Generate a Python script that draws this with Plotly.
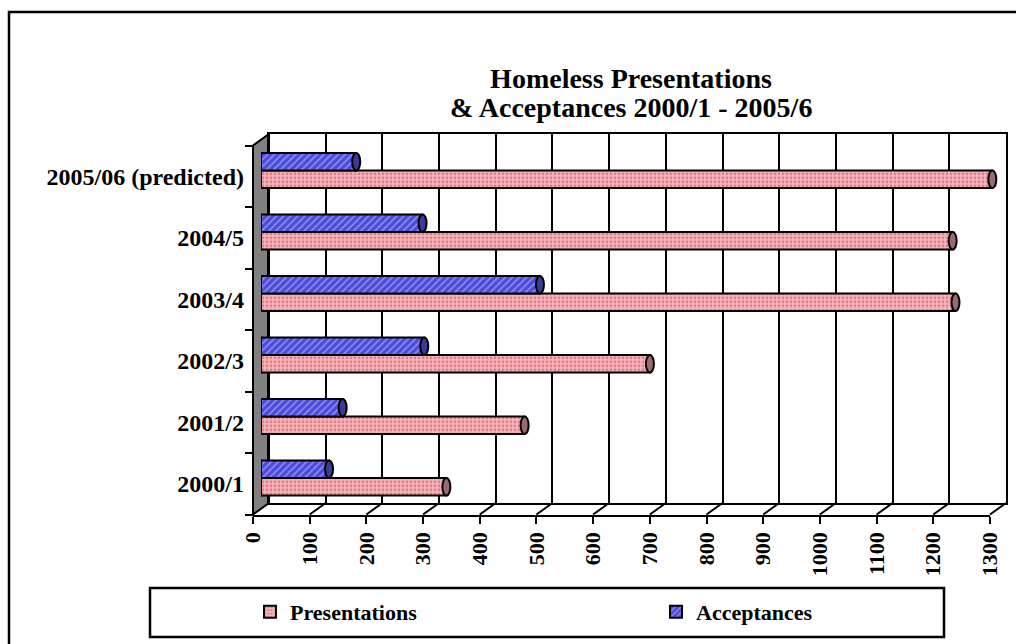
import plotly.graph_objects as go

# ---------------- data ----------------
categories = ["2000/1", "2001/2", "2002/3", "2003/4", "2004/5", "2005/06 (predicted)"]
presentations = [327, 465, 686, 1225, 1220, 1290]
acceptances = [120, 144, 288, 492, 285, 168]
x_ticks = list(range(0, 1301, 100))
title_lines = ["Homeless Presentations", "&amp; Acceptances 2000/1 - 2005/6"]

# ---------------- geometry ----------------
W, H = 1016, 644
FONT = "Liberation Serif"
BACK_L, BACK_R, BACK_T, BACK_B = 269, 1006, 134, 503   # back plane in px
DX, DY = 16, 11.5                                       # 3-D depth offset in px
BAR_GAP = 0.43
GROUP_W = 1 - BAR_GAP

PINK_BG, PINK_FG, PINK_CAP = "#f3b6bc", "#cc3444", "#9a6a72"
BLUE_BG, BLUE_FG, BLUE_CAP = "#4c4cdc", "#d8d8ff", "#3a3a98"


def px(x):
    return x / W


def py(y):
    return 1 - y / H


def dom_x(depth):
    return [px(BACK_L - depth * DX), px(BACK_R - depth * DX)]


def dom_y(depth):
    return [py(BACK_B + depth * DY), py(BACK_T + depth * DY)]


def bold(size):
    return dict(family=FONT, size=size, color="black", weight="bold")


fig = go.Figure()

fig.add_trace(go.Bar(
    name="Presentations", y=categories, x=presentations, orientation="h",
    xaxis="x2", yaxis="y2", legend="legend",
    marker=dict(color=PINK_BG, line=dict(color="black", width=2),
                pattern=dict(shape=".", fgcolor=PINK_FG, bgcolor=PINK_BG,
                             size=4, solidity=0.35)),
))
fig.add_trace(go.Bar(
    name="Acceptances", y=categories, x=acceptances, orientation="h",
    xaxis="x2", yaxis="y2", legend="legend2",
    marker=dict(color=BLUE_BG, line=dict(color="black", width=2),
                pattern=dict(shape="/", fgcolor=BLUE_FG, bgcolor=BLUE_BG,
                             size=5, solidity=0.3)),
))
# invisible carrier so the front axes (labels) subplot is drawn
fig.add_trace(go.Scatter(x=[None], y=[None], xaxis="x3", yaxis="y3",
                         mode="markers", showlegend=False, hoverinfo="skip"))

shapes = []
# outer chart border
shapes.append(dict(type="rect", xref="paper", yref="paper",
                   x0=px(9), y0=py(12), x1=1.05, y1=-0.05,
                   line=dict(color="black", width=2.5), layer="below"))
# legend frame
shapes.append(dict(type="rect", xref="paper", yref="paper",
                   x0=px(150), y0=py(588), x1=px(944), y1=py(637),
                   line=dict(color="black", width=2.5), layer="below"))
# left wall (grey)
wall = "M {},{} L {},{} L {},{} L {},{} Z".format(
    px(BACK_L - DX), py(BACK_T + DY), px(BACK_L), py(BACK_T),
    px(BACK_L), py(BACK_B), px(BACK_L - DX), py(BACK_B + DY))
shapes.append(dict(type="path", xref="paper", yref="paper", path=wall,
                   fillcolor="#808080", line=dict(color="black", width=2),
                   layer="below"))
# floor diagonals at every x tick
for v in x_ticks:
    shapes.append(dict(type="line", xref="x", xsizemode="pixel", xanchor=v,
                       x0=0, x1=-DX, yref="paper",
                       y0=py(BACK_B), y1=py(BACK_B + DY),
                       line=dict(color="black", width=2)))

# cylinder ends: rounded start (below bars) and dark end cap (above bars)
for values, lo, hi, bg, cap in ((presentations, -GROUP_W / 2, 0, PINK_BG, PINK_CAP),
                                (acceptances, 0, GROUP_W / 2, BLUE_BG, BLUE_CAP)):
    for i, v in enumerate(values):
        shapes.append(dict(type="circle", xref="x2", xsizemode="pixel",
                           xanchor=0, x0=-4, x1=4, yref="y2",
                           y0=i + lo, y1=i + hi, fillcolor=bg, layer="below",
                           line=dict(color="black", width=2)))
        shapes.append(dict(type="circle", xref="x2", xsizemode="pixel",
                           xanchor=v, x0=-4, x1=4, yref="y2",
                           y0=i + lo, y1=i + hi, fillcolor=cap,
                           line=dict(color="black", width=2)))

n = len(categories)
legend_common = dict(orientation="h", xanchor="left", y=py(612),
                     yanchor="middle", bgcolor="rgba(0,0,0,0)", borderwidth=0,
                     font=bold(22))
fig.update_layout(
    width=W, height=H, autosize=False,
    margin=dict(l=0, r=0, t=0, b=0, pad=0, autoexpand=False),
    paper_bgcolor="white", plot_bgcolor="rgba(0,0,0,0)",
    font=dict(family=FONT, color="black"),
    title=dict(text=title_lines[0], x=px(631), xanchor="center",
               y=py(78), yanchor="middle", font=bold(28)),
    annotations=[dict(text=title_lines[1], xref="paper", yref="paper",
                      x=px(631), y=py(108), xanchor="center", yanchor="middle",
                      showarrow=False, font=bold(28))],
    barmode="group", bargap=BAR_GAP, bargroupgap=0,
    showlegend=True,
    legend=dict(x=px(250), **legend_common),
    legend2=dict(x=px(656), **legend_common),
    # back plane: grid
    xaxis=dict(domain=dom_x(0), anchor="y", range=[0, 1300], tickvals=x_ticks,
               showticklabels=False, ticks="", showgrid=True, gridcolor="black",
               gridwidth=2, showline=True, linecolor="black", linewidth=2,
               mirror=True, zeroline=False, fixedrange=True),
    yaxis=dict(domain=dom_y(0), anchor="x", range=[-0.5, n - 0.5],
               showticklabels=False, ticks="", showgrid=False, showline=True,
               linecolor="black", linewidth=2, mirror=True, zeroline=False,
               fixedrange=True),
    # middle depth: bars
    xaxis2=dict(domain=dom_x(0.5), anchor="y2", range=[0, 1300], visible=False,
                fixedrange=True),
    yaxis2=dict(domain=dom_y(0.5), anchor="x2", type="category",
                categoryorder="array", categoryarray=categories,
                range=[-0.5, n - 0.5], visible=False, fixedrange=True),
    # front: axes with labels
    xaxis3=dict(domain=dom_x(1), anchor="y3", range=[0, 1300], tickvals=x_ticks,
                ticktext=[str(t) for t in x_ticks], tickangle=-90,
                ticks="outside", ticklen=7, tickwidth=2, tickcolor="black",
                showline=True, linecolor="black", linewidth=2, showgrid=False,
                zeroline=False, tickfont=bold(22), fixedrange=True),
    yaxis3=dict(domain=dom_y(1), anchor="x3", range=[-0.5, n - 0.5],
                tickvals=list(range(n)), ticktext=categories, ticks="",
                ticklabelstandoff=8,
                minor=dict(tickvals=[i - 0.5 for i in range(n + 1)],
                           ticks="outside", ticklen=7, tickwidth=2,
                           tickcolor="black", showgrid=False),
                showline=False, showgrid=False, zeroline=False,
                tickfont=bold(24), fixedrange=True),
    shapes=shapes,
)

fig.write_html("out.html")
